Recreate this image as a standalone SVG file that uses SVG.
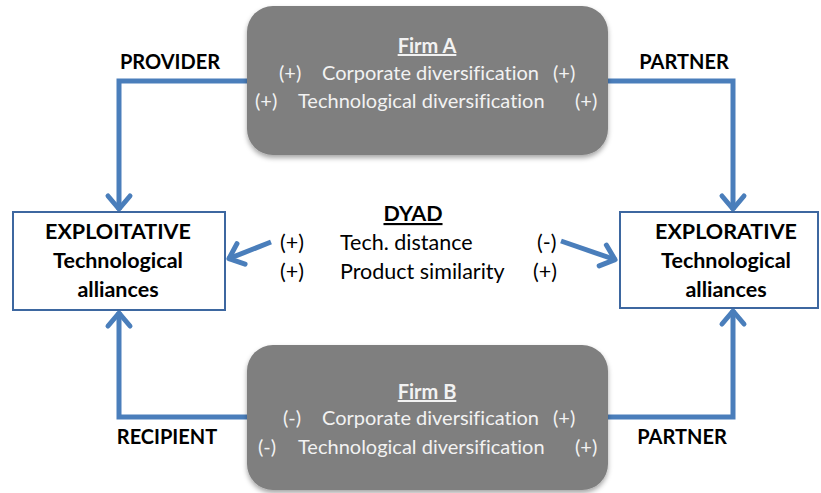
<svg xmlns="http://www.w3.org/2000/svg" width="821" height="493" viewBox="0 0 821 493">
<style>
text{font-variant-ligatures:none;}
.firm{fill:#7f7f7f;}
.ft{font-family:Lato,"Open Sans","Liberation Sans",sans-serif;font-size:20px;fill:#f2f2f2;}
.ftitle{font-weight:bold;text-decoration:underline;text-anchor:middle;}
.dt{font-family:Lato,"Open Sans","Liberation Sans",sans-serif;font-size:21.5px;fill:#000;}
.lbl{font-family:Lato,"Open Sans","Liberation Sans",sans-serif;font-size:20px;font-weight:bold;fill:#000;text-anchor:middle;}
.bt{font-family:Lato,"Open Sans","Liberation Sans",sans-serif;font-size:21.5px;font-weight:bold;fill:#000;text-anchor:middle;}
.box{fill:#fff;stroke:#3d67a0;stroke-width:2;}
.conn{fill:none;stroke:#4a7ebb;stroke-width:5;stroke-linejoin:miter;}
</style>
<defs>
<marker id="arr" markerUnits="userSpaceOnUse" markerWidth="30" markerHeight="30" viewBox="-20 -15 30 30" refX="0" refY="0" orient="auto" overflow="visible">
<path d="M-14,-11 L-1,0 L-14,11" fill="none" stroke="#4a7ebb" stroke-width="5" stroke-linecap="round" stroke-linejoin="round"/>
</marker>
<filter id="sh" x="-10%" y="-10%" width="120%" height="130%">
<feDropShadow dx="0" dy="3" stdDeviation="2.5" flood-color="#000" flood-opacity="0.35"/>
</filter>
<linearGradient id="gg" x1="0" y1="0" x2="0" y2="1">
<stop offset="0" stop-color="#7d7d7d"/>
<stop offset="0.4" stop-color="#828282"/>
<stop offset="1" stop-color="#7b7b7b"/>
</linearGradient>
</defs>

<g id="connectors">
<path class="conn" d="M248,81 H119 V210" marker-end="url(#arr)"/>
<path class="conn" d="M607,81 H733 V210" marker-end="url(#arr)"/>
<path class="conn" d="M248,417 H119 V312" marker-end="url(#arr)"/>
<path class="conn" d="M607,417 H733 V310" marker-end="url(#arr)"/>
<path class="conn" d="M271,242 L228,259" marker-end="url(#arr)"/>
<path class="conn" d="M561,241 L616,260" marker-end="url(#arr)"/>
<text class="lbl" x="170" y="69">PROVIDER</text>
<text class="lbl" x="684" y="69">PARTNER</text>
<text class="lbl" x="167" y="444">RECIPIENT</text>
<text class="lbl" x="682" y="444">PARTNER</text>
</g>

<g id="firmA">
<rect class="firm" x="247" y="6" width="361" height="149" rx="26" fill="url(#gg)" filter="url(#sh)"/>
<text class="ft ftitle" x="427" y="53">Firm A</text>
<text class="ft" x="279" y="80">(+)</text>
<text class="ft" x="322" y="80">Corporate diversification</text>
<text class="ft" x="553" y="80">(+)</text>
<text class="ft" x="255" y="108">(+)</text>
<text class="ft" x="298" y="108">Technological diversification</text>
<text class="ft" x="575" y="108">(+)</text>
</g>

<g id="firmB">
<rect class="firm" x="247" y="345" width="361" height="145" rx="26" fill="url(#gg)" filter="url(#sh)"/>
<text class="ft ftitle" x="427" y="399">Firm B</text>
<text class="ft" x="283" y="425">(-)</text>
<text class="ft" x="322" y="425">Corporate diversification</text>
<text class="ft" x="553" y="425">(+)</text>
<text class="ft" x="258" y="454">(-)</text>
<text class="ft" x="298" y="454">Technological diversification</text>
<text class="ft" x="575" y="454">(+)</text>
</g>

<g id="dyad">
<text class="dt" x="413" y="221" font-weight="bold" text-anchor="middle" text-decoration="underline">DYAD</text>
<text class="dt" x="280" y="250">(+)</text>
<text class="dt" x="340" y="250">Tech. distance</text>
<text class="dt" x="537" y="250">(-)</text>
<text class="dt" x="280" y="279">(+)</text>
<text class="dt" x="340" y="279">Product similarity</text>
<text class="dt" x="533" y="279">(+)</text>
</g>

<g id="exploitative">
<rect class="box" x="13" y="212" width="212" height="98"/>
<text class="bt" x="118" y="239">EXPLOITATIVE</text>
<text class="bt" x="118" y="268">Technological</text>
<text class="bt" x="118" y="297">alliances</text>
</g>

<g id="explorative">
<rect class="box" x="620" y="212" width="198" height="96"/>
<text class="bt" x="726" y="239">EXPLORATIVE</text>
<text class="bt" x="726" y="268">Technological</text>
<text class="bt" x="726" y="297">alliances</text>
</g>
</svg>
